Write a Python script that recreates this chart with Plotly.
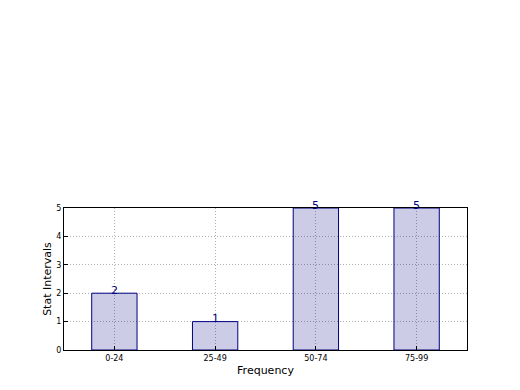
import plotly.graph_objects as go

categories = ["0-24", "25-49", "50-74", "75-99"]
counts = [2, 1, 5, 5]
y_ticks = [0, 1, 2, 3, 4, 5]

fig = go.Figure()
fig.add_trace(go.Bar(
    x=list(range(len(categories))), y=counts, width=0.45,
    marker=dict(color="rgba(0,0,128,0.2)", line=dict(color="#000080", width=1)),
    hoverinfo="skip",
))
for i, v in enumerate(counts):
    fig.add_annotation(x=i, y=v, text=str(v), showarrow=False, yanchor="middle", yshift=3,
                       font=dict(family="DejaVu Sans", size=11, color="#000080"))

axis_common = dict(showline=True, linecolor="black", linewidth=1, mirror=True,
                   showgrid=True, gridcolor="#b0b0b0", griddash="1px,2px", gridwidth=1,
                   ticks="inside", ticklen=4, tickcolor="black", zeroline=False,
                   tickfont=dict(family="DejaVu Sans", size=8, color="black"))
fig.update_xaxes(range=[-0.5, 3.5], tickvals=list(range(len(categories))), ticktext=categories,
                 title=dict(text="Frequency", font=dict(family="DejaVu Sans", size=11, color="black"), standoff=4),
                 **axis_common)
fig.update_yaxes(range=[0, 5], tickvals=y_ticks,
                 title=dict(text="Stat Intervals", font=dict(family="DejaVu Sans", size=11, color="black"), standoff=2),
                 **axis_common)
fig.update_layout(width=520, height=390, margin=dict(l=64, r=53, t=208, b=40),
                  plot_bgcolor="white", paper_bgcolor="white", showlegend=False)
fig.write_html("out.html")
